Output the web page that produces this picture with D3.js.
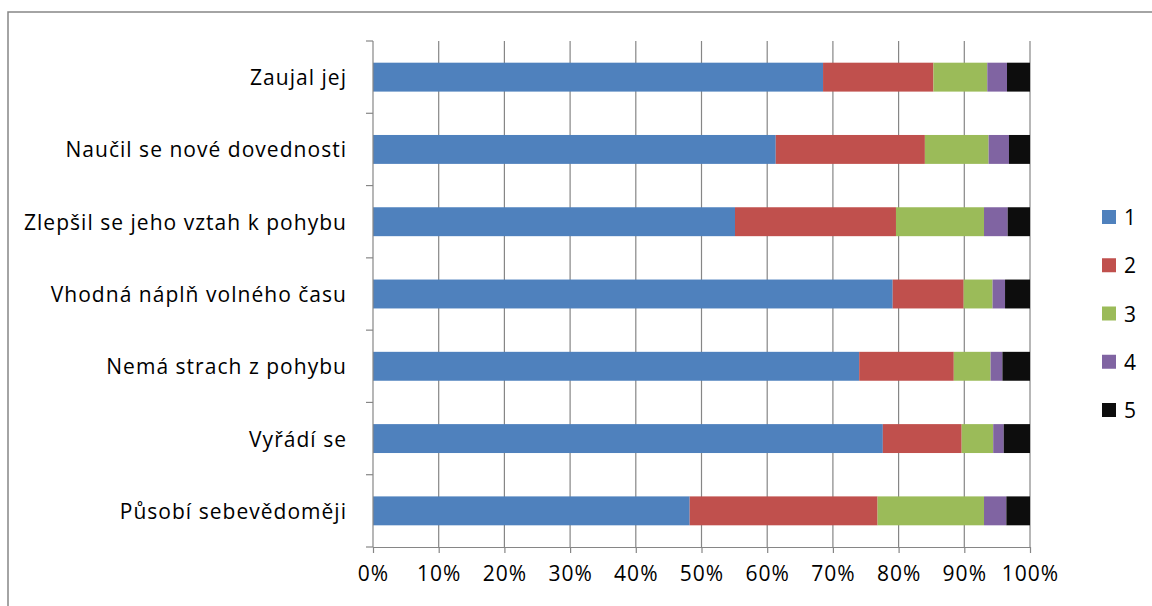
<!DOCTYPE html>
<html>
<head>
<meta charset="utf-8">
<script src="https://cdn.jsdelivr.net/npm/d3@7"></script>
<style>
  html, body { margin: 0; padding: 0; background: #fff; }
  svg { display: block; }
  text { font-family: "Open Sans", sans-serif; fill: #000; }
</style>
</head>
<body>
<svg id="chart" width="1152" height="606"></svg>
<script>
const categories = [
  "Zaujal jej",
  "Naučil se nové dovednosti",
  "Zlepšil se jeho vztah k pohybu",
  "Vhodná náplň volného času",
  "Nemá strach z pohybu",
  "Vyřádí se",
  "Působí sebevědoměji"
];
const seriesNames = ["1", "2", "3", "4", "5"];
const s1 = [68.5, 61.3, 55.1, 79.1, 74.0, 77.6, 48.2];
const s2 = [16.8, 22.7, 24.5, 10.8, 14.4, 12.0, 28.6];
const s3 = [8.2, 9.7, 13.4, 4.4, 5.6, 4.8, 16.2];
const s4 = [3.0, 3.1, 3.6, 1.9, 1.8, 1.6, 3.4];
const s5 = [3.5, 3.2, 3.4, 3.8, 4.2, 4.0, 3.6];
const xTicks = [0, 10, 20, 30, 40, 50, 60, 70, 80, 90, 100];
const colors = ["#4F81BD", "#C0504D", "#9BBB59", "#8064A2", "#0D0D0D"];

const series = [s1, s2, s3, s4, s5];
const table = categories.map((c, i) => {
  const row = { cat: c };
  const total = series.reduce((a, s) => a + s[i], 0);
  seriesNames.forEach((k, j) => row[k] = series[j][i] / total * 100);
  return row;
});
const stacked = d3.stack().keys(seriesNames)(table);

const svg = d3.select("#chart");
const L = 373, R = 1030, T = 41, B = 547;
const x = d3.scaleLinear().domain([0, 100]).range([L, R]);
const y = d3.scaleBand().domain(categories).range([T, B]).paddingInner(0.6).paddingOuter(0.3);
const color = d3.scaleOrdinal().domain(seriesNames).range(colors);
const gray = "#868686";

// font: longest label spans ~322px in the reference
const FS = 21;
const probe = svg.append("text").attr("font-size", FS).text(categories[2]);
const wl = probe.node().getComputedTextLength();
probe.remove();
const LS = Math.max(0, Math.min(1.2, (322 - wl) / (categories[2].length - 1)));

// outer border (top & left visible)
svg.append("path").attr("d", "M8,606 V12 H1152").attr("fill", "none").attr("stroke", gray).attr("stroke-width", 1.5);

// gridlines
svg.append("g").selectAll("line").data(xTicks.slice(1)).join("line")
  .attr("x1", d => x(d)).attr("x2", d => x(d)).attr("y1", T).attr("y2", B)
  .attr("stroke", gray).attr("stroke-width", 1.2);

// bars
svg.append("g").selectAll("g").data(stacked).join("g")
  .attr("fill", d => color(d.key))
  .selectAll("rect").data(d => d).join("rect")
  .attr("x", d => x(d[0])).attr("width", d => x(d[1]) - x(d[0]))
  .attr("y", d => y(d.data.cat)).attr("height", y.bandwidth());

// x axis
const xAxis = d3.axisBottom(x).tickValues(xTicks).tickFormat(d => d + "%").tickSize(6).tickSizeOuter(0).tickPadding(13);
const gx = svg.append("g").attr("transform", `translate(0,${B})`).call(xAxis);
gx.select(".domain").attr("stroke", gray).attr("stroke-width", 1.2);
gx.selectAll(".tick line").attr("stroke", gray).attr("stroke-width", 1.2);
gx.selectAll(".tick text").attr("font-size", FS).attr("letter-spacing", LS)
  .attr("font-family", "'Open Sans', sans-serif").attr("fill", "#000");

// y axis
const ga = svg.append("g");
ga.append("line").attr("x1", L).attr("x2", L).attr("y1", T).attr("y2", B).attr("stroke", gray).attr("stroke-width", 1.2);
const step = y.step();
const bandTops = d3.range(categories.length + 1).map(i => T + i * step);
ga.selectAll("line.t").data(bandTops).join("line").attr("class", "t")
  .attr("x1", L - 7).attr("x2", L).attr("y1", d => d).attr("y2", d => d)
  .attr("stroke", gray).attr("stroke-width", 1.2);
ga.selectAll("text").data(categories).join("text")
  .attr("x", 347).attr("y", d => y(d) + y.bandwidth() / 2)
  .attr("text-anchor", "end").attr("dominant-baseline", "central")
  .attr("font-size", FS).attr("letter-spacing", LS).text(d => d);

// legend
const lg = svg.append("g");
const legY = d3.scalePoint().domain(seriesNames).range([217, 410]);
lg.selectAll("rect").data(seriesNames).join("rect")
  .attr("x", 1102).attr("y", d => legY(d) - 7).attr("width", 14).attr("height", 14)
  .attr("fill", d => color(d));
lg.selectAll("text").data(seriesNames).join("text")
  .attr("x", 1124).attr("y", d => legY(d)).attr("dominant-baseline", "central")
  .attr("font-size", FS).text(d => d);
</script>
</body>
</html>
